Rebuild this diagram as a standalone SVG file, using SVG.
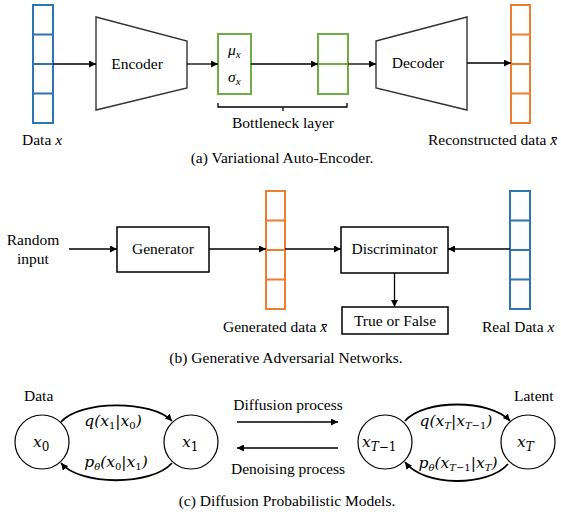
<svg xmlns="http://www.w3.org/2000/svg" width="561" height="515" viewBox="0 0 561 515">
<style>
text{font-family:"Liberation Serif","Times New Roman",serif;font-size:15.5px;fill:#000}
.m{font-family:"DejaVu Serif","Liberation Serif",serif;font-style:italic}
.mi{font-style:italic}
.c{text-anchor:middle}
.ln{stroke:#000;stroke-width:1.3;fill:none}
.arc{stroke:#000;stroke-width:1.8;fill:none}
.box{stroke:#000;stroke-width:1.5;fill:#fff}
.blue{stroke:#2E75B6;stroke-width:2;fill:#fff}
.orange{stroke:#ED7D31;stroke-width:2;fill:#fff}
.green{stroke:#70AD47;stroke-width:2;fill:#fff}
.trap{stroke:#333;stroke-width:1.4;fill:#fff}
.circ{stroke:#000;stroke-width:1.2;fill:#fff}
</style>
<defs>
<marker id="ah" viewBox="0 0 10 10" refX="10" refY="5" markerWidth="7" markerHeight="7" markerUnits="userSpaceOnUse" orient="auto">
<path d="M0,0 L10,5 L0,10 z" fill="#000"/>
</marker>
</defs>

<!-- (a) VAE -->
<g id="vae-data">
<rect class="blue" x="33" y="5" width="20" height="118"/>
<path class="blue" d="M33,34.5H53M33,64H53M33,93.5H53"/>
<text x="22" y="145">Data <tspan class="mi">x</tspan></text>
</g>
<g id="encoder">
<polygon class="trap" points="96,17 187,41 187,88 96,110"/>
<text class="c" x="137" y="69">Encoder</text>
</g>
<g id="latent-params">
<rect class="green" x="218" y="34" width="33" height="60"/>
<text class="mi" x="228" y="55">μ<tspan font-size="11" dy="3">x</tspan></text>
<text class="mi" x="228" y="82">σ<tspan font-size="11" dy="3">x</tspan></text>
</g>
<g id="latent-sample">
<rect class="green" x="318" y="34" width="30" height="60"/>
<path class="green" d="M318,64H348"/>
</g>
<g id="bottleneck">
<path class="ln" d="M218,103V107H347V103M283,107V111"/>
<text class="c" x="283" y="128">Bottleneck layer</text>
</g>
<g id="decoder">
<polygon class="trap" points="376,41 467,17 467,110 376,88"/>
<text class="c" x="418" y="68">Decoder</text>
</g>
<g id="vae-recon">
<rect class="orange" x="511" y="5" width="19" height="118"/>
<path class="orange" d="M511,34.5H530M511,64H530M511,93.5H530"/>
<text x="428" y="145">Reconstructed data <tspan class="mi">x̄</tspan></text>
</g>
<text class="c" x="282" y="163">(a) Variational Auto-Encoder.</text>

<!-- (b) GAN -->
<g id="random-input">
<text class="c" x="33" y="245">Random</text>
<text class="c" x="33" y="264">input</text>
</g>
<g id="generator">
<rect class="box" x="117" y="227" width="92" height="45"/>
<text class="c" x="163" y="254">Generator</text>
</g>
<g id="generated">
<rect class="orange" x="266" y="191" width="19" height="118"/>
<path class="orange" d="M266,220.5H285M266,250H285M266,279.5H285"/>
<text x="223" y="332">Generated data <tspan class="mi">x̄</tspan></text>
</g>
<g id="discriminator">
<rect class="box" x="341" y="227" width="107" height="46"/>
<text class="c" x="394.5" y="254">Discriminator</text>
</g>
<g id="true-false">
<rect class="box" x="342" y="307" width="106" height="27"/>
<text class="c" x="395" y="326">True or False</text>
</g>
<g id="real-data">
<rect class="blue" x="510" y="191" width="20" height="118"/>
<path class="blue" d="M510,220.5H530M510,250H530M510,279.5H530"/>
<text x="482" y="332">Real Data <tspan class="mi">x</tspan></text>
</g>
<text class="c" x="286" y="363">(b) Generative Adversarial Networks.</text>

<!-- (c) Diffusion -->
<g id="x0">
<circle class="circ" cx="42" cy="442" r="27"/>
<text class="m" x="33" y="447" font-size="18">x<tspan font-size="12" dy="4" font-style="normal">0</tspan></text>
<text x="24" y="401">Data</text>
</g>
<g id="x1">
<circle class="circ" cx="191" cy="442" r="27"/>
<text class="m" x="182" y="447" font-size="18">x<tspan font-size="12" dy="4" font-style="normal">1</tspan></text>
</g>
<g id="xT-1">
<circle class="circ" cx="385" cy="442" r="27"/>
<text class="m" x="362" y="447" font-size="18">x<tspan font-size="12" dy="4">T</tspan><tspan font-size="12" font-style="normal">−1</tspan></text>
</g>
<g id="xT">
<circle class="circ" cx="528" cy="442" r="27"/>
<text class="m" x="517" y="447" font-size="18">x<tspan font-size="12" dy="4">T</tspan></text>
<text x="514" y="401">Latent</text>
</g>

<g id="connectors">
<path class="ln" d="M53,64H96" marker-end="url(#ah)"/>
<path class="ln" d="M187,64H218" marker-end="url(#ah)"/>
<path class="ln" d="M251,64H318" marker-end="url(#ah)"/>
<path class="ln" d="M348,64H376" marker-end="url(#ah)"/>
<path class="ln" d="M467,63H511" marker-end="url(#ah)"/>
<path class="ln" d="M69,249H117" marker-end="url(#ah)"/>
<path class="ln" d="M209,249H266" marker-end="url(#ah)"/>
<path class="ln" d="M285,249H341" marker-end="url(#ah)"/>
<path class="ln" d="M510,249H448" marker-end="url(#ah)"/>
<path class="ln" d="M394.5,273V307" marker-end="url(#ah)"/>
<path class="ln" d="M237,422H338" marker-end="url(#ah)"/>
<path class="ln" d="M338,448H237" marker-end="url(#ah)"/>
<path class="arc" d="M61,422C80,400 152,400 172,421" marker-end="url(#ah)"/>
<path class="arc" d="M172,463C152,486 80,486 61,463" marker-end="url(#ah)"/>
<path class="arc" d="M405,421C424,399 490,399 510,421" marker-end="url(#ah)"/>
<path class="arc" d="M508,464C488,487 424,487 405,462" marker-end="url(#ah)"/>
</g>

<g id="labels">
<text x="288" y="410" class="c">Diffusion process</text>
<text x="288" y="474" class="c">Denoising process</text>
<text class="m c" x="113" y="426" font-size="14">q(x<tspan font-size="10" dy="3" font-style="normal">1</tspan><tspan dy="-3">|x</tspan><tspan font-size="10" dy="3" font-style="normal">0</tspan><tspan dy="-3">)</tspan></text>
<text class="m c" x="116" y="467" font-size="14">p<tspan font-size="10" dy="3">θ</tspan><tspan dy="-3">(x</tspan><tspan font-size="10" dy="3" font-style="normal">0</tspan><tspan dy="-3">|x</tspan><tspan font-size="10" dy="3" font-style="normal">1</tspan><tspan dy="-3">)</tspan></text>
<text class="m c" x="456" y="426" font-size="14">q(x<tspan font-size="10" dy="3">T</tspan><tspan dy="-3">|x</tspan><tspan font-size="10" dy="3">T</tspan><tspan font-size="10" font-style="normal">−1</tspan><tspan dy="-3">)</tspan></text>
<text class="m c" x="458" y="468" font-size="14">p<tspan font-size="10" dy="3">θ</tspan><tspan dy="-3">(x</tspan><tspan font-size="10" dy="3">T</tspan><tspan font-size="10" font-style="normal">−1</tspan><tspan dy="-3">|x</tspan><tspan font-size="10" dy="3">T</tspan><tspan dy="-3">)</tspan></text>
<text class="c" x="287" y="506">(c) Diffusion Probabilistic Models.</text>
</g>
</svg>
